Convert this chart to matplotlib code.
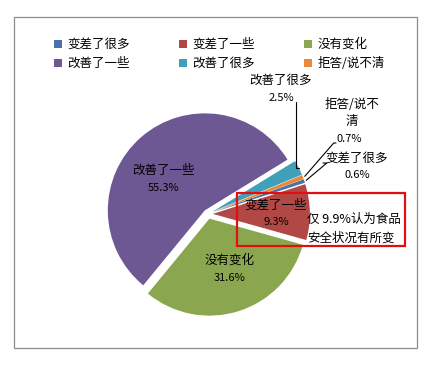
import matplotlib
matplotlib.use("Agg")
import matplotlib.pyplot as plt
import numpy as np
from matplotlib.patches import Rectangle

plt.rcParams["font.family"] = ["Noto Sans CJK SC", "DejaVu Sans"]

# Data, in clockwise drawing order
categories = ["变差了很多", "变差了一些", "没有变化", "改善了一些", "改善了很多", "拒答/说不清"]
shares = [0.6, 9.3, 31.6, 55.3, 2.5, 0.7]
colors = ["#4a72a8", "#b24846", "#8aa64e", "#6e5894", "#41a0b9", "#e8893c"]

W, H = 441, 366
fig = plt.figure(figsize=(W / 100, H / 100), dpi=100)

# Pie axes: centre (208, 214) px, radius 97 px
cx, cy, r = 208, 214, 97
pie_ax = fig.add_axes([(cx - r) / W, (H - cy - r) / H, 2 * r / W, 2 * r / H])
wedges, _ = pie_ax.pie(
    shares, colors=colors, startangle=20, counterclock=False,
    explode=[0.05] * len(shares),
    wedgeprops=dict(linewidth=0),
)
pie_ax.set_xlim(-1, 1)
pie_ax.set_ylim(-1, 1)
pie_ax.set_aspect("auto")
pie_ax.axis("off")
for w in wedges:
    w.set_clip_on(False)

# Overlay axes in pixel coordinates (y down) for frame, texts and boxes
over = fig.add_axes([0, 0, 1, 1])
over.set_xlim(0, W)
over.set_ylim(H, 0)
over.axis("off")
over.set_zorder(5)

# Outer chart border
over.add_patch(Rectangle((14, 17), 403, 331, fill=False, edgecolor="#8c8c8c", lw=0.9))

# Legend, row-major order
order = [0, 3, 1, 4, 2, 5]
leg = fig.legend(
    [wedges[i] for i in order], [categories[i] for i in order],
    ncol=3, frameon=False, fontsize=9,
    loc="upper left", bbox_to_anchor=(54 / W, 1 - 38 / H),
    handlelength=0.6, handleheight=0.6, handletextpad=0.45,
    columnspacing=3.95, labelspacing=0.5, borderpad=0, borderaxespad=0,
)

# Data labels (pixel positions)
FS_CAT, FS_PCT = 9, 8
labels = [
    # (text, pct, x, y_cat, y_pct)
    ("改善了一些", "55.3%", 164, 170, 188),
    ("没有变化", "31.6%", 230, 260, 278),
    ("变差了一些", "9.3%", 276, 205, 222),
    ("改善了很多", "2.5%", 281, 80, 98),
    ("变差了很多", "0.6%", 357, 158, 175),
]
for cat, pct, x, yc, yp in labels:
    over.text(x, yc, cat, fontsize=FS_CAT, ha="center", va="center")
    over.text(x, yp, pct, fontsize=FS_PCT, ha="center", va="center")
over.text(352, 104, "拒答/说不", fontsize=FS_CAT, ha="center", va="center")
over.text(352, 122, "清", fontsize=FS_CAT, ha="center", va="center")
over.text(349, 139, "0.7%", fontsize=FS_PCT, ha="center", va="center")


def edge_point(w, rad=1.0):
    mid = np.deg2rad((w.theta1 + w.theta2) / 2)
    return (w.center[0] + rad * np.cos(mid), w.center[1] + rad * np.sin(mid))


line_kw = dict(arrowstyle="-", color="black", lw=0.8, shrinkA=0, shrinkB=0)
# 改善了很多: vertical leader
teal = wedges[4]
over.annotate("", xy=edge_point(teal), xycoords=pie_ax.transData,
              xytext=(296, 102), textcoords="data",
              arrowprops=dict(line_kw, connectionstyle="angle,angleA=90,angleB=0,rad=0"))
# 拒答/说不清
over.annotate("", xy=edge_point(wedges[5], 1.02), xycoords=pie_ax.transData,
              xytext=(336, 143), textcoords="data",
              arrowprops=dict(line_kw, connectionstyle="angle,angleA=0,angleB=49,rad=0"))
# 变差了很多
over.annotate("", xy=edge_point(wedges[0], 1.02), xycoords=pie_ax.transData,
              xytext=(323, 163), textcoords="data",
              arrowprops=dict(line_kw, connectionstyle="angle,angleA=0,angleB=40,rad=0"))

# Highlight box and note
over.add_patch(Rectangle((237, 193), 168, 53, fill=False, edgecolor="#e01010", lw=1.6))
over.text(307, 219, "仅 9.9%认为食品", fontsize=FS_CAT, ha="left", va="center")
over.text(307, 238, "安全状况有所变", fontsize=FS_CAT, ha="left", va="center")

fig.savefig("out.png", dpi=100)
